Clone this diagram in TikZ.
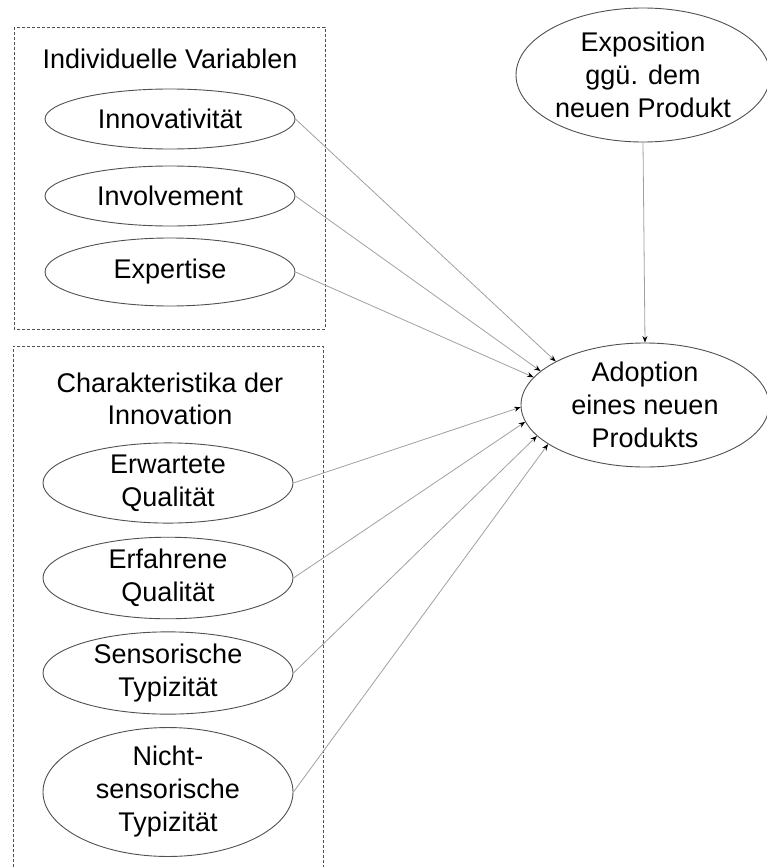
\documentclass[tikz,border=0pt]{standalone}
\usepackage{fontspec}
\setmainfont{Liberation Sans}
\usetikzlibrary{shapes.geometric,arrows.meta}
\definecolor{ovalline}{HTML}{505050}
\definecolor{linkline}{HTML}{A0A0A0}
\definecolor{frameline}{HTML}{505050}
\begin{document}
\begin{tikzpicture}[x=1pt,y=-1pt,
  oval/.style={ellipse,draw=ovalline,line width=0.9pt,inner sep=0pt,align=center,
    font=\fontsize{27}{33}\selectfont,minimum width=250pt},
  title/.style={align=center,inner sep=0pt,font=\fontsize{27}{32}\selectfont},
  frame/.style={draw=frameline,line width=0.8pt,dash pattern=on 3pt off 2pt},
  link/.style={draw=linkline,line width=0.8pt,
    -{Stealth[length=6.5pt,width=5pt,color=black]}}
]
\useasboundingbox (0,0) rectangle (766,867);

% group frames
\draw[frame] (14,27) rectangle (325,329);
\draw[frame] (13,867) -- (13,346) -- (323,346) -- (323,867);

% group titles
\node[title] (t1) at (170,59) {Individuelle Variablen};
\node[title] (t2) at (170,399) {Charakteristika der\\Innovation};

% individual variables
\node[oval,minimum height=60pt] (inno) at (170,119) {Innovativität};
\node[oval,minimum height=60pt] (invo) at (170,196) {Involvement};
\node[oval,minimum height=68pt] (expe) at (170,272) {Expertise};

% characteristics of the innovation
\node[oval,minimum height=80pt] (erw) at (168,483) {Erwartete\\Qualität};
\node[oval,minimum height=80pt] (erf) at (168,578) {Erfahrene\\Qualität};
\node[oval,minimum height=80pt] (sen) at (168,673) {Sensorische\\Typizität};
\node[oval,minimum height=110pt] (nsen) at (168,792) {Nicht-\\sensorische\\Typizität};

% exposure and adoption
\node[oval,minimum width=254pt,minimum height=134pt] (expo) at (643,75) {Exposition\\ggü. dem\\neuen Produkt};
\node[oval,minimum width=248pt,minimum height=124pt] (adop) at (645,405) {Adoption\\eines neuen\\Produkts};

% effects
\draw[link] (inno.east) -- (adop.154);
\draw[link] (invo.east) -- (adop.162.4);
\draw[link] (expe.east) -- (adop.166.7);
\draw[link] (erw.east) -- (adop.181.4);
\draw[link] (erf.east) -- (adop.188.5);
\draw[link] (sen.east) -- (adop.196);
\draw[link] (nsen.east) -- (adop.202.6);
\draw[link] (expo.south) -- (adop.north);
\end{tikzpicture}
\end{document}
